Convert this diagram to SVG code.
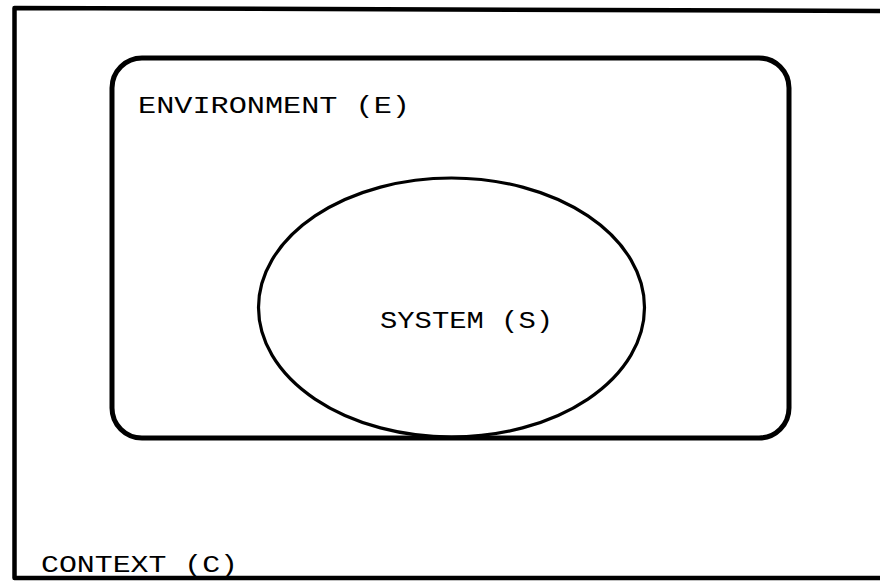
<svg xmlns="http://www.w3.org/2000/svg" width="880" height="582" viewBox="0 0 880 582">
  <style>
    .line { fill: none; stroke: #000; stroke-linejoin: round; }
    .label { font-family: "Liberation Mono", "Courier New", monospace; font-size: 24px; fill: #000; }
  </style>
  <rect x="0" y="0" width="880" height="582" fill="#fff"/>

  <!-- context frame: open on the right side -->
  <g id="context">
    <polyline class="line" stroke-width="4.5" points="880,11 14.5,8 14.5,578 880,578"/>
    <text class="label" x="41" y="572" textLength="197" lengthAdjust="spacingAndGlyphs">CONTEXT (C)</text>
  </g>

  <!-- environment: rounded box -->
  <g id="environment">
    <rect class="line" stroke-width="5" x="112" y="58" width="677" height="380" rx="30" ry="30"/>
    <text class="label" x="138" y="113" textLength="272" lengthAdjust="spacingAndGlyphs">ENVIRONMENT (E)</text>
  </g>

  <!-- system: ellipse resting on the environment's lower edge -->
  <g id="system">
    <ellipse class="line" stroke-width="3.2" cx="451.5" cy="307.5" rx="193" ry="129.5"/>
    <text class="label" x="380" y="328" textLength="173" lengthAdjust="spacingAndGlyphs">SYSTEM (S)</text>
  </g>

  <g id="connectors"/>
</svg>
